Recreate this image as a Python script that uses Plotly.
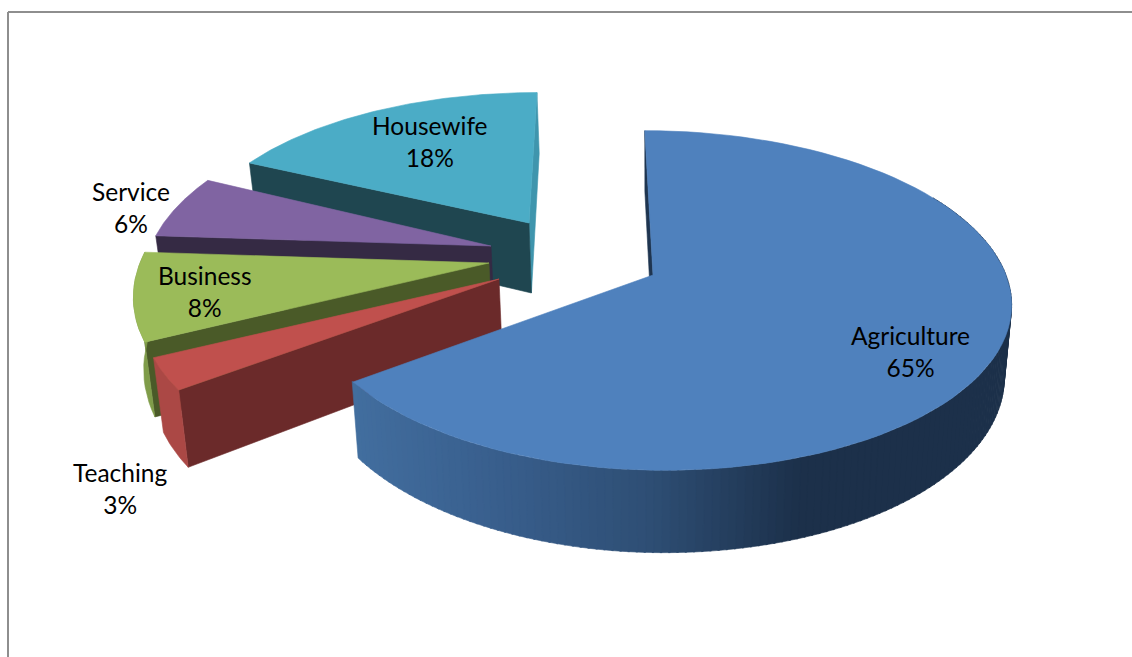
import math
import numpy as np
import plotly.graph_objects as go

# Data
categories = ["Agriculture", "Teaching", "Business", "Service", "Housewife"]
values = [65, 3, 8, 6, 18]

# Styling and geometry of the exploded pseudo-3D pie (pixels of the picture)
top_colors = ["#4f81bd", "#c0504d", "#9bbb59", "#8064a2", "#4bacc6"]
face_colors = ["#1f3550", "#6b2a2a", "#4a5a28", "#352a44", "#1f4650"]
wall_colors = [None, "#ab4845", "#7f9c49", "#5f4a7c", "#3f95ad"]
apex_x = [653, 499, 489, 491, 529]
apex_y = [275, 279, 263, 246, 223]
rx_right = [353, 351, 349, 340, 333]
rx_left = [345, 351, 349, 340, 333]
ry = [166, 173, 174, 164, 150]
label_x = [910, 120, 205, 131, 429.5]
label_y = [351, 488, 291, 207, 141]

K = 0.15
VX = 590
DEPTH = 70
SHRINK = 0.98
SHRINK_X = 650

W, H = 1132, 657


def top_pt(i, deg):
    t = math.radians(deg)
    u, v = math.sin(t), -math.cos(t)
    s = 1 / (1 - K * v)
    rx = rx_right[i] if u > 0 else rx_left[i]
    X = apex_x[i] + rx * u
    return VX + (X - VX) * s, apex_y[i] + ry[i] * v * s, s


def bottom(x, y, s):
    return SHRINK_X + (x - SHRINK_X) * SHRINK, y + DEPTH * s


def apex_pt(i):
    return apex_x[i], apex_y[i], 1.0


def add_poly(fig, xs, ys, color):
    fig.add_trace(go.Scatter(
        x=list(xs) + [xs[0]], y=list(ys) + [ys[0]], mode="lines", fill="toself",
        fillcolor=color, line=dict(color=color, width=0.6), hoverinfo="skip",
        showlegend=False))


def lerp_wall(x):
    stops_x = [350, 500, 650, 800, 1100]
    r = np.interp(x, stops_x, [66, 56, 46, 28, 28])
    g = np.interp(x, stops_x, [110, 94, 78, 48, 48])
    b = np.interp(x, stops_x, [159, 140, 116, 74, 74])
    return f"rgb({r:.0f},{g:.0f},{b:.0f})"


fig = go.Figure()

# angles per category, clockwise from the back of the pie
edges = np.concatenate([[0], np.cumsum(values)]) * 360 / sum(values)

for i in [4, 3, 2, 1, 0]:
    a0, a1 = edges[i], edges[i + 1]
    ap = apex_pt(i)
    ab = bottom(*ap)
    p0 = top_pt(i, a0)
    p1 = top_pt(i, a1)
    b0 = bottom(*p0)
    b1 = bottom(*p1)

    # flat cut faces
    if i == 4:
        add_poly(fig, [p1[0], ap[0], ab[0], b1[0]], [p1[1], ap[1], ab[1], b1[1]], wall_colors[4])
    add_poly(fig, [p0[0], ap[0], ab[0], b0[0]], [p0[1], ap[1], ab[1], b0[1]], face_colors[i])

    # outer curved wall
    if i == 0:
        angs = np.linspace(60, a1, 150)
        for a, b in zip(angs[:-1], angs[1:]):
            q0, q1 = top_pt(i, a), top_pt(i, b + 0.25)
            r0, r1 = bottom(*q0), bottom(*q1)
            add_poly(fig, [q0[0], q1[0], r1[0], r0[0]], [q0[1], q1[1], r1[1], r0[1]],
                     lerp_wall((q0[0] + q1[0]) / 2))
    elif i in (1, 2):
        angs = np.linspace(a0, a1, 14)
        pts = [top_pt(i, a) for a in angs]
        bots = [bottom(*q) for q in pts]
        add_poly(fig, [q[0] for q in pts] + [q[0] for q in bots[::-1]],
                 [q[1] for q in pts] + [q[1] for q in bots[::-1]], wall_colors[i])

    # top surface
    angs = np.linspace(a0, a1, 90)
    pts = [top_pt(i, a) for a in angs]
    add_poly(fig, [ap[0]] + [q[0] for q in pts], [ap[1]] + [q[1] for q in pts], top_colors[i])

for i, c in enumerate(categories):
    fig.add_annotation(x=label_x[i], y=label_y[i], text=f"{c}<br>{values[i]}%", showarrow=False,
                       font=dict(family="Lato", size=24.5, color="#000000"), align="center")

# chart frame: open on the right and the bottom
fig.add_shape(type="line", x0=8, x1=8, y0=12, y1=H, line=dict(color="#8e8e8e", width=2))
fig.add_shape(type="line", x0=8, x1=W, y0=12, y1=12, line=dict(color="#8e8e8e", width=2))

fig.update_layout(
    width=W, height=H, margin=dict(l=0, r=0, t=0, b=0),
    paper_bgcolor="white", plot_bgcolor="white", showlegend=False,
    xaxis=dict(range=[0, W], visible=False, fixedrange=True),
    yaxis=dict(range=[H, 0], visible=False, fixedrange=True),
)
fig.write_html("out.html", config={"displayModeBar": False},
               post_script="document.body.style.margin='0';")
